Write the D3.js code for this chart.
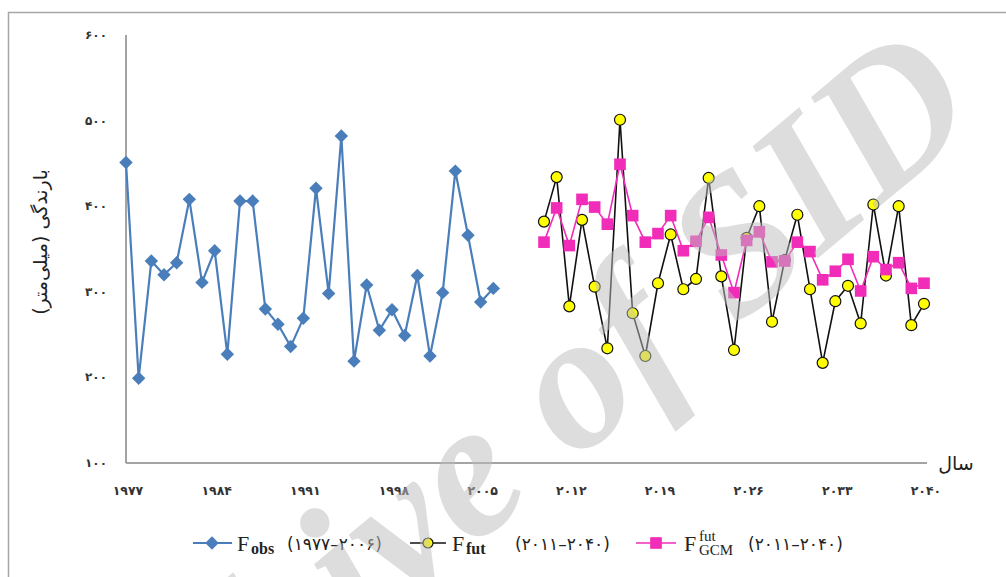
<!DOCTYPE html>
<html>
<head>
<meta charset="utf-8">
<script src="https://cdn.jsdelivr.net/npm/d3@7"></script>
<style>
  html, body { margin: 0; padding: 0; background: #fff; }
  svg { display: block; }
</style>
</head>
<body>
<div id="chart"></div>
<script>
// observed rainfall 1977-2006
const obsYears = d3.range(1977, 2007);
const obsValues = [451, 199, 336, 320, 334, 408, 311, 348, 227, 406,
                   406, 280, 262, 236, 269, 421, 298, 482, 219, 308,
                   255, 279, 249, 319, 225, 299, 441, 366, 288, 304];

// future series (downscaled and raw GCM)
const futYears = d3.range(2010, 2041);
const futValues = [382, 434, 283, 384, 306, 234, 501, 275, 225, 310,
                   367, 303, 315, 433, 318, 232, 363, 400, 265, 337,
                   390, 303, 217, 289, 307, 263, 402, 319, 400, 261, 286];
const gcmValues = [358, 398, 354, 408, 399, 379, 449, 389, 358, 368,
                   389, 348, 359, 387, 343, 299, 360, 370, 335, 336,
                   358, 347, 314, 324, 338, 301, 341, 326, 334, 304, 310];

const allYears = d3.range(1977, 2041);
const xTickYears = [1977, 1984, 1991, 1998, 2005, 2012, 2019, 2026, 2033, 2040];
const xTickLabels = ['۱۹۷۷', '۱۹۸۴', '۱۹۹۱', '۱۹۹۸', '۲۰۰۵', '۲۰۱۲', '۲۰۱۹', '۲۰۲۶', '۲۰۳۳', '۲۰۴۰'];
const yTickValues = [100, 200, 300, 400, 500, 600];
const yTickLabels = ['۱۰۰', '۲۰۰', '۳۰۰', '۴۰۰', '۵۰۰', '۶۰۰'];

const width = 1006, height = 577;
const faFont = '"DejaVu Sans", sans-serif';
const serif = '"Liberation Serif", "DejaVu Serif", serif';

const svg = d3.select('#chart').append('svg')
  .attr('width', width)
  .attr('height', height);

svg.append('rect').attr('width', width).attr('height', height).attr('fill', '#fff');

// outer frame (only left/top visible)
svg.append('rect')
  .attr('x', 8.5).attr('y', 12.5)
  .attr('width', 1010).attr('height', 580)
  .attr('fill', 'none').attr('stroke', '#a6a6a6').attr('stroke-width', 1.5);

const x = d3.scalePoint().domain(allYears).range([126, 924]);
const y = d3.scaleLinear().domain([100, 600]).range([463, 35]);

// axes lines
svg.append('line').attr('x1', 126).attr('x2', 126).attr('y1', y(600)).attr('y2', y(100))
  .attr('stroke', '#868686').attr('stroke-width', 1.5);
svg.append('line').attr('x1', 126).attr('x2', 927).attr('y1', y(100)).attr('y2', y(100))
  .attr('stroke', '#868686').attr('stroke-width', 1.5);

// y tick labels
svg.append('g').selectAll('text')
  .data(yTickValues)
  .enter().append('text')
  .attr('x', 107)
  .attr('y', d => y(d) + 4)
  .attr('text-anchor', 'end')
  .attr('direction', 'ltr')
  .attr('font-family', faFont)
  .attr('font-size', 12)
  .attr('letter-spacing', 4)
  .attr('font-weight', 'bold')
  .attr('fill', '#333')
  .text((d, i) => yTickLabels[i]);

// x tick labels
svg.append('g').selectAll('text')
  .data(xTickYears)
  .enter().append('text')
  .attr('x', d => x(d) + 2)
  .attr('y', 495)
  .attr('text-anchor', 'middle')
  .attr('direction', 'ltr')
  .attr('font-family', faFont)
  .attr('font-size', 12.5)
  .attr('letter-spacing', 3.5)
  .attr('font-weight', 'bold')
  .attr('fill', '#333')
  .text((d, i) => xTickLabels[i]);

// axis titles
svg.append('text')
  .attr('x', 956).attr('y', 470)
  .attr('text-anchor', 'middle')
  .attr('font-family', faFont)
  .attr('font-size', 19)
  .attr('fill', '#222')
  .text('سال');

svg.append('text')
  .attr('transform', 'translate(47,242) rotate(-90)')
  .attr('text-anchor', 'middle')
  .attr('direction', 'rtl')
  .attr('font-family', faFont)
  .attr('font-size', 19)
  .attr('fill', '#222')
  .text('بارندگی (میلی‌متر)');

const obsColor = '#4a7ebb';
const gcmColor = '#f02cb8';

const line = d3.line().x(d => x(d[0])).y(d => y(d[1]));
const obsData = obsYears.map((yr, i) => [yr, obsValues[i]]);
const futData = futYears.map((yr, i) => [yr, futValues[i]]);
const gcmData = futYears.map((yr, i) => [yr, gcmValues[i]]);

const diamond = d3.symbol().type(d3.symbolDiamond2).size(115);
const square = d3.symbol().type(d3.symbolSquare).size(135);

// observed
svg.append('path').datum(obsData)
  .attr('d', line).attr('fill', 'none')
  .attr('stroke', obsColor).attr('stroke-width', 2.2);
svg.append('g').selectAll('path')
  .data(obsData)
  .enter().append('path')
  .attr('d', diamond)
  .attr('transform', d => `translate(${x(d[0])},${y(d[1])})`)
  .attr('fill', obsColor);

// future
svg.append('path').datum(futData)
  .attr('d', line).attr('fill', 'none')
  .attr('stroke', '#111').attr('stroke-width', 1.6);
svg.append('g').selectAll('circle')
  .data(futData)
  .enter().append('circle')
  .attr('cx', d => x(d[0])).attr('cy', d => y(d[1]))
  .attr('r', 5.5)
  .attr('fill', '#ffff00').attr('stroke', '#111').attr('stroke-width', 1.2);

// GCM
svg.append('path').datum(gcmData)
  .attr('d', line).attr('fill', 'none')
  .attr('stroke', gcmColor).attr('stroke-width', 1.6);
svg.append('g').selectAll('path')
  .data(gcmData)
  .enter().append('path')
  .attr('d', square)
  .attr('transform', d => `translate(${x(d[0])},${y(d[1])})`)
  .attr('fill', gcmColor);

// legend
const legY = 543;
const leg = svg.append('g');

function legendLabel(x0, sub, sup, xDigits, digits) {
  leg.append('text')
    .attr('x', x0).attr('y', legY + 8)
    .attr('font-family', serif).attr('font-size', 22).attr('fill', '#222')
    .text('F');
  if (sup) {
    leg.append('text')
      .attr('x', x0 + 15).attr('y', legY - 2)
      .attr('font-family', serif).attr('font-size', 15).attr('fill', '#222')
      .text(sup);
    leg.append('text')
      .attr('x', x0 + 15).attr('y', legY + 12)
      .attr('font-family', serif).attr('font-size', 15).attr('fill', '#222')
      .text(sub);
  } else {
    leg.append('text')
      .attr('x', x0 + 14).attr('y', legY + 11)
      .attr('font-family', serif).attr('font-size', 16).attr('font-weight', 'bold')
      .attr('fill', '#222')
      .text(sub);
  }
  leg.append('text')
    .attr('x', xDigits).attr('y', legY + 7)
    .attr('direction', 'ltr')
    .attr('font-family', faFont).attr('font-size', 17)
    .attr('letter-spacing', 3).attr('fill', '#222')
    .text(digits);
}

leg.append('line').attr('x1', 193).attr('x2', 232).attr('y1', legY).attr('y2', legY)
  .attr('stroke', obsColor).attr('stroke-width', 2);
leg.append('path').attr('d', diamond).attr('transform', `translate(212,${legY})`).attr('fill', obsColor);
legendLabel(237, 'obs', null, 287, '(۱۹۷۷–۲۰۰۶)');

leg.append('line').attr('x1', 410).attr('x2', 446).attr('y1', legY).attr('y2', legY)
  .attr('stroke', '#111').attr('stroke-width', 1.6);
leg.append('circle').attr('cx', 428).attr('cy', legY).attr('r', 5)
  .attr('fill', '#ffff00').attr('stroke', '#111').attr('stroke-width', 1.2);
legendLabel(452, 'fut', null, 515, '(۲۰۱۱–۲۰۴۰)');

leg.append('line').attr('x1', 636).attr('x2', 676).attr('y1', legY).attr('y2', legY)
  .attr('stroke', gcmColor).attr('stroke-width', 1.6);
leg.append('path').attr('d', square).attr('transform', `translate(656,${legY})`).attr('fill', gcmColor);
legendLabel(684, 'GCM', 'fut', 748, '(۲۰۱۱–۲۰۴۰)');

// watermark
svg.append('text')
  .attr('transform', 'translate(985,118) rotate(-40)')
  .attr('text-anchor', 'end')
  .attr('font-family', serif)
  .attr('font-style', 'italic')
  .attr('font-weight', 'bold')
  .attr('font-size', 195)
  .attr('fill', '#bdbdbd')
  .attr('opacity', 0.5)
  .text('Archive of SID');
</script>
</body>
</html>
